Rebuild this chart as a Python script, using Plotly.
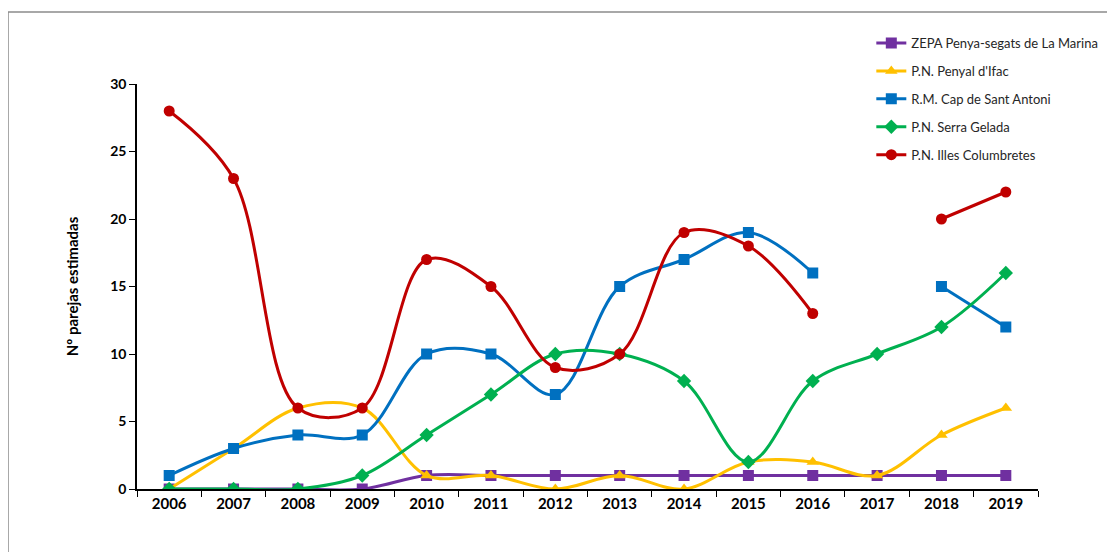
import plotly.graph_objects as go

years = ["2006", "2007", "2008", "2009", "2010", "2011", "2012", "2013", "2014", "2015", "2016", "2017", "2018", "2019"]
zepa = [0, 0, 0, 0, 1, 1, 1, 1, 1, 1, 1, 1, 1, 1]
ifac = [0, 3, 6, 6, 1, 1, 0, 1, 0, 2, 2, 1, 4, 6]
sant_antoni = [1, 3, 4, 4, 10, 10, 7, 15, 17, 19, 16, None, 15, 12]
serra_gelada = [0, 0, 0, 1, 4, 7, 10, 10, 8, 2, 8, 10, 12, 16]
columbretes = [28, 23, 6, 6, 17, 15, 9, 10, 19, 18, 13, None, 20, 22]

series = [
    ("ZEPA Penya-segats de La Marina", zepa, "#7030A0", "square", 11),
    ("P.N. Penyal d'Ifac", ifac, "#FFC000", "triangle-up", 11),
    ("R.M. Cap de Sant Antoni", sant_antoni, "#0070C0", "square", 11),
    ("P.N. Serra Gelada", serra_gelada, "#00B050", "diamond", 11),
    ("P.N. Illes Columbretes", columbretes, "#C00000", "circle", 11),
]

font_family = "Lato, 'Open Sans', sans-serif"

fig = go.Figure()
for i in range(len(series)):
    name, vals, color, sym, size = series[i]
    fig.add_trace(go.Scatter(
        x=years, y=vals, name=name, mode="lines+markers",
        line=dict(color=color, width=3, shape="spline", smoothing=1.0),
        marker=dict(color=color, symbol=sym, size=size),
        connectgaps=False,
        legendgroup=name,
    ))

fig.update_layout(
    width=1115, height=552,
    margin=dict(l=129, r=85, t=76, b=71),
    paper_bgcolor="white", plot_bgcolor="white",
    font=dict(family=font_family, color="#000000"),
    showlegend=True,
    legend=dict(
        x=0.815, y=1.138, xanchor="left", yanchor="top",
        font=dict(size=13, family=font_family, color="#262626"),
        tracegroupgap=8, traceorder="grouped",
        bgcolor="rgba(0,0,0,0)", itemwidth=30,
    ),
    xaxis=dict(
        type="category", categoryorder="array", categoryarray=years,
        range=[-0.5, 13.5],
        showline=True, linecolor="#000000", linewidth=1.5,
        ticks="outside", tickson="boundaries", ticklen=6, tickcolor="#000000",
        tickfont=dict(size=15, family=font_family, color="#000000", weight="bold"),
        showgrid=False, zeroline=False,
    ),
    yaxis=dict(
        range=[0, 30], tickvals=[0, 5, 10, 15, 20, 25, 30],
        showline=True, linecolor="#000000", linewidth=1.5,
        ticks="outside", ticklen=6, tickcolor="#000000",
        tickfont=dict(size=14, family=font_family, color="#000000", weight="bold"),
        showgrid=False, zeroline=False,
        title=dict(text="Nº parejas estimadas", standoff=28,
                   font=dict(size=15, family=font_family, color="#000000", weight="bold")),
    ),
    shapes=[dict(
        type="rect", xref="paper", yref="paper",
        x0=(8 - 137) / 901, x1=(1125 - 137) / 901,
        y0=(489 - 560) / 405, y1=(489 - 12) / 405,
        line=dict(color="#8c8c8c", width=1.5), fillcolor="rgba(0,0,0,0)", layer="below",
    )],
)

fig.write_html("out.html")
